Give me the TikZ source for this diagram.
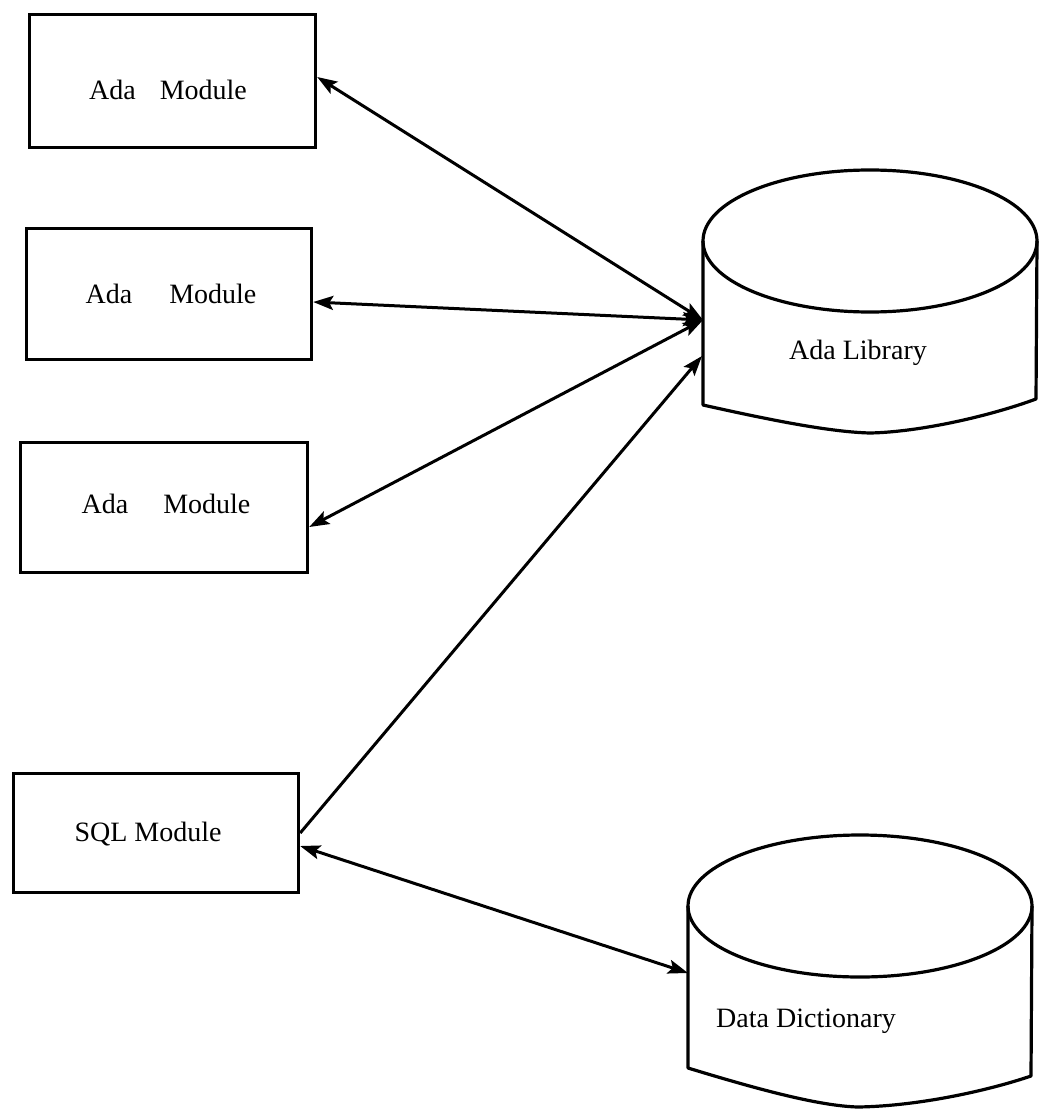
\documentclass[tikz,border=0pt]{standalone}
\usepackage{fontspec}
\setmainfont{Liberation Serif}
\usetikzlibrary{arrows.meta}
\tikzset{
  modbox/.style={draw, line width=3.2pt, inner sep=0pt, anchor=north west},
  lbl/.style={font=\fontsize{28}{33}\selectfont, inner sep=0pt},
  conn/.style={line width=3pt, {Stealth[length=20pt,width=14pt,inset=4pt]}-{Stealth[length=20pt,width=14pt,inset=4pt]}},
  conr/.style={line width=3pt, -{Stealth[length=20pt,width=14pt,inset=4pt]}},
  cyl/.style={line width=3.2pt, line join=round}
}
\begin{document}
\begin{tikzpicture}[x=1pt,y=-1pt]
\useasboundingbox (0,0) rectangle (1039,1110);
% module boxes
\node[modbox, minimum width=286pt, minimum height=133pt] (m1) at (28,13) {};
\node[modbox, minimum width=285pt, minimum height=131pt] (m2) at (25,227) {};
\node[modbox, minimum width=287pt, minimum height=130pt] (m3) at (19,441) {};
\node[modbox, minimum width=285pt, minimum height=119pt] (sql) at (12,772) {};
\node[lbl] (t1) at (168,90) {Ada\hspace{24pt}Module};
\node[lbl] (t2) at (171,294) {Ada\hspace{37pt}Module};
\node[lbl] (t3) at (166,504) {Ada\hspace{35pt}Module};
\node[lbl] (t4) at (148,834) {SQL Module};
% Ada Library cylinder
\draw[cyl] (870,241) ellipse [x radius=167, y radius=71];
\draw[cyl] (703,241) -- (703,405) .. controls (770,420) and (830,432) .. (870,433)
  .. controls (920,432) and (990,416) .. (1036,399) -- (1037,241);
\node[lbl] (libt) at (858,353) {Ada Library};
\coordinate (libin) at (703,320);
\coordinate (libin2) at (702,356);
% Data Dictionary cylinder
\draw[cyl] (860,906) ellipse [x radius=172, y radius=71];
\draw[cyl] (688,906) -- (688,1068) .. controls (760,1090) and (820,1106) .. (858,1107)
  .. controls (920,1106) and (990,1090) .. (1031,1076) -- (1032,906);
\node[lbl] (ddt) at (806,1021) {Data Dictionary};
\coordinate (ddin) at (688,973);
% connectors
\draw[conn] (m1.east |- 0,77) -- (libin);
\draw[conn] (m2.east |- 0,302) -- (libin);
\draw[conn] (m3.east |- 0,527) -- (libin);
\draw[conr] (sql.east |- 0,833) -- (libin2);
\draw[conn] (sql.east |- 0,846) -- (ddin);
\end{tikzpicture}
\end{document}
